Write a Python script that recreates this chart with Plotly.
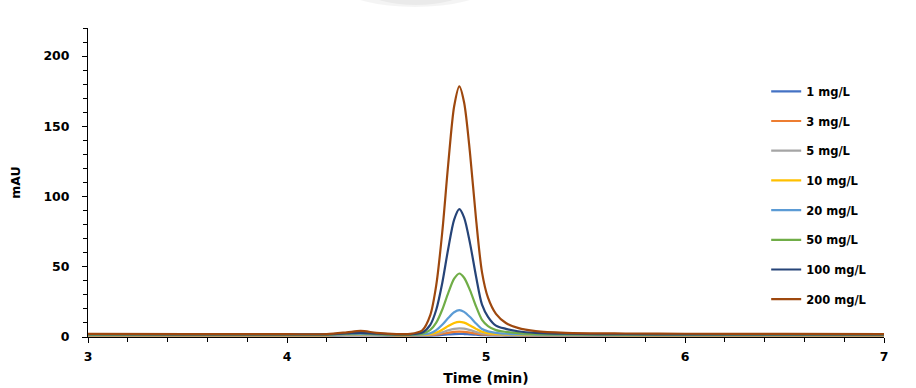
import plotly.graph_objects as go

# Retention time grid (min)
time_min = [3.0, 3.5, 4.0, 4.2, 4.3, 4.37, 4.45, 4.55, 4.62, 4.68, 4.72, 4.75,
            4.78, 4.81, 4.84, 4.866, 4.89, 4.92, 4.95, 4.98, 5.01, 5.05, 5.10,
            5.16, 5.25, 5.4, 5.7, 6.0, 6.5, 7.0]

# Detector response (mAU) for each standard
mau_1 = [1.0, 1.0, 1.0, 1.0, 1.1, 1.2, 1.1, 1.0, 1.0, 1.0, 1.05, 1.2,
         1.5, 1.8, 2.1, 2.2, 2.1, 1.9, 1.6, 1.3, 1.2, 1.1, 1.05,
         1.0, 1.0, 1.0, 1.0, 1.0, 1.0, 1.0]
mau_3 = [1.2, 1.2, 1.2, 1.2, 1.3, 1.4, 1.3, 1.2, 1.2, 1.25, 1.4, 1.7,
         2.3, 3.0, 3.6, 3.8, 3.6, 3.1, 2.4, 1.8, 1.6, 1.4, 1.3,
         1.25, 1.2, 1.2, 1.2, 1.2, 1.2, 1.2]
mau_5 = [1.3, 1.3, 1.3, 1.3, 1.5, 1.6, 1.4, 1.3, 1.3, 1.4, 1.7, 2.3,
         3.3, 4.7, 5.8, 6.2, 5.9, 4.9, 3.6, 2.5, 2.0, 1.7, 1.5,
         1.4, 1.35, 1.3, 1.3, 1.3, 1.3, 1.3]
mau_10 = [1.4, 1.4, 1.4, 1.4, 1.6, 1.8, 1.5, 1.4, 1.4, 1.55, 2.1, 3.2,
          5.2, 7.8, 10.0, 10.8, 10.2, 8.2, 5.8, 3.7, 2.8, 2.2, 1.9,
          1.7, 1.5, 1.45, 1.4, 1.4, 1.4, 1.4]
mau_20 = [1.5, 1.5, 1.5, 1.5, 1.8, 2.0, 1.7, 1.5, 1.5, 1.8, 2.7, 4.9,
          8.7, 13.5, 17.6, 19.1, 17.9, 14.2, 9.6, 5.7, 4.0, 2.9, 2.3,
          2.0, 1.7, 1.6, 1.5, 1.5, 1.5, 1.5]
mau_50 = [1.7, 1.6, 1.6, 1.7, 2.3, 2.8, 2.1, 1.6, 1.7, 2.3, 5.0, 10.2,
          19.4, 31.3, 41.5, 45.2, 42.2, 33.2, 21.8, 12.2, 7.8, 4.9, 3.6,
          2.7, 2.1, 1.8, 1.7, 1.7, 1.6, 1.6]
mau_100 = [2.0, 1.9, 1.8, 1.9, 2.5, 3.0, 2.4, 1.9, 1.9, 3.2, 8.7, 19.4,
           38.3, 62.7, 83.6, 91.0, 85.0, 66.5, 43.1, 23.0, 14.4, 8.1, 5.8,
           4.1, 2.9, 2.3, 2.0, 1.9, 1.9, 1.8]
mau_200 = [2.2, 2.1, 2.0, 2.1, 3.3, 4.3, 3.0, 2.1, 2.2, 4.8, 15.6, 36.9,
           74.4, 122.8, 164.3, 178.5, 167.0, 130.4, 84.0, 46.0, 28.0, 16.5, 10.0,
           6.5, 4.2, 3.0, 2.5, 2.3, 2.2, 2.1]

series_names = ["1 mg/L", "3 mg/L", "5 mg/L", "10 mg/L",
                "20 mg/L", "50 mg/L", "100 mg/L", "200 mg/L"]
series_values = [mau_1, mau_3, mau_5, mau_10, mau_20, mau_50, mau_100, mau_200]
series_colors = ["#4472C4", "#ED7D31", "#A5A5A5", "#FFC000",
                 "#5B9BD5", "#70AD47", "#264478", "#9E480E"]

fig = go.Figure()
for name, vals, col in zip(series_names, series_values, series_colors):
    fig.add_trace(go.Scatter(
        x=time_min, y=vals, name=name, mode="lines",
        line=dict(color=col, width=2.2, shape="spline", smoothing=0.8),
        legendgroup=name,
    ))

FONT = "DejaVu Sans, Verdana, sans-serif"
tick_font = dict(family=FONT, size=12.5, color="#000000", weight="bold")

fig.update_layout(
    width=916, height=388,
    margin=dict(l=88, r=32, t=28, b=51),
    plot_bgcolor="white", paper_bgcolor="white",
    showlegend=True,
    legend=dict(
        x=0.852, y=0.842, xanchor="left", yanchor="top",
        font=dict(family=FONT, size=11.5, color="#000000", weight="bold"),
        tracegroupgap=10.7,
        bgcolor="rgba(0,0,0,0)",
    ),
    xaxis=dict(
        range=[3, 7], dtick=1, tick0=3, automargin=False,
        showline=True, linecolor="#000000", linewidth=1,
        ticks="outside", ticklen=5, tickcolor="#000000",
        showgrid=False, zeroline=False,
        tickfont=tick_font, ticklabelstandoff=3,
        minor=dict(dtick=0.2, ticks="outside", ticklen=4, tickcolor="#000000"),
        title=dict(text="Time (min)",
                   font=dict(family=FONT, size=14, color="#000000", weight="bold"),
                   standoff=10),
    ),
    yaxis=dict(
        range=[0, 220], dtick=50, tick0=0, automargin=False,
        showline=True, linecolor="#000000", linewidth=1,
        ticks="outside", ticklen=5, tickcolor="#000000",
        showgrid=False, zeroline=False,
        tickfont=tick_font, ticklabelstandoff=10,
        minor=dict(dtick=10, ticks="outside", ticklen=4, tickcolor="#000000"),
        title=dict(text="mAU",
                   font=dict(family=FONT, size=12.5, color="#000000", weight="bold"),
                   standoff=20),
    ),
)

# faint grey smudge above the plot area
fig.add_shape(type="circle", xref="paper", yref="paper",
              x0=(345 - 88) / 796, x1=(485 - 88) / 796,
              y0=(337 - 7) / 309, y1=(337 + 30) / 309,
              fillcolor="rgba(0,0,0,0.045)", line=dict(width=0), layer="below")
fig.add_shape(type="circle", xref="paper", yref="paper",
              x0=(370 - 88) / 796, x1=(462 - 88) / 796,
              y0=(337 - 5) / 309, y1=(337 + 20) / 309,
              fillcolor="rgba(0,0,0,0.04)", line=dict(width=0), layer="below")

fig.write_html("out.html")
